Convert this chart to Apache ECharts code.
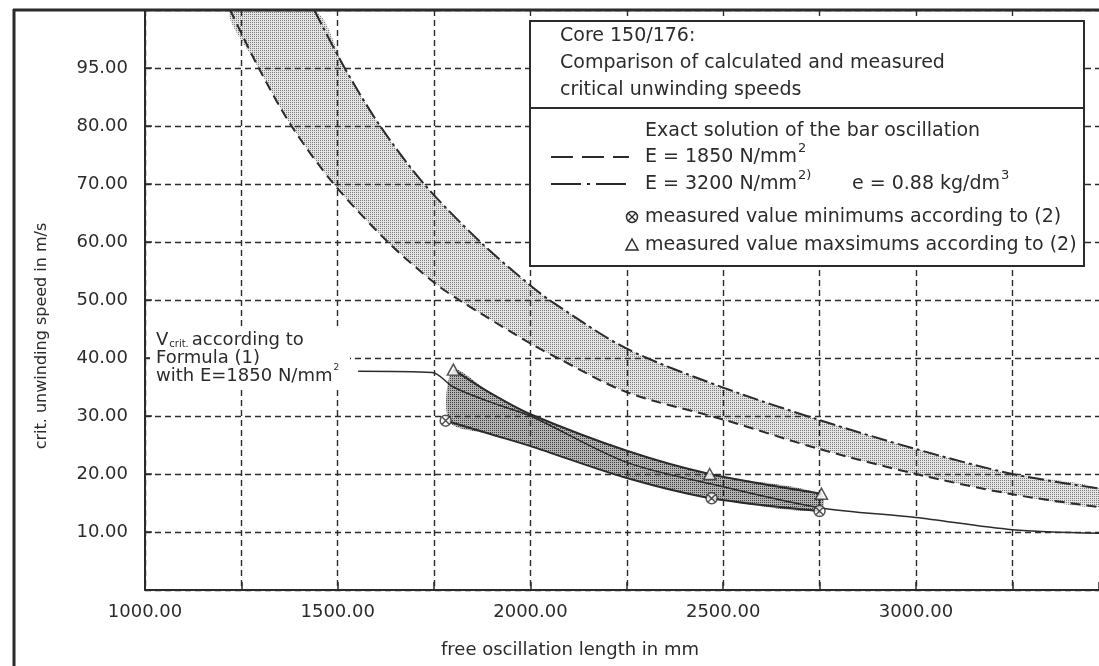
<!DOCTYPE html>
<html>
<head>
<meta charset="utf-8">
<title>Core 150/176 - critical unwinding speeds</title>
<script src="https://cdn.jsdelivr.net/npm/echarts@6/dist/echarts.min.js"></script>
<style>
  html, body { margin: 0; padding: 0; background: #fff; }
  #chart { width: 1099px; height: 666px; }
</style>
</head>
<body>
<div id="chart"></div>
<script>
// tick labels (the scanned original labels its 90 line "95.00")
const xTickValues = [1000, 1500, 2000, 2500, 3000]
const xTickLabels = ['1000.00', '1500.00', '2000.00', '2500.00', '3000.00']
const yTickValues = [10, 20, 30, 40, 50, 60, 70, 80, 90]
const yTickLabels = ['10.00', '20.00', '30.00', '40.00', '50.00', '60.00', '70.00', '80.00', '95.00']

// exact solution of the bar oscillation, [length mm, speed m/s]
const e1850Curve = [
  [1221, 100], [1295, 90], [1380, 80], [1490, 70], [1630, 60], [1750, 53], [1815, 50],
  [2000, 42.5], [2070, 40], [2250, 34.1], [2500, 29.4], [2750, 24.3], [3000, 20], [3250, 16.5], [3475, 14.3],
]
const e3200Curve = [
  [1439, 100], [1518, 90], [1610, 80], [1724, 70], [1870, 60], [2000, 52.5], [2060, 49.5],
  [2250, 41.6], [2500, 34.9], [2750, 29.3], [3000, 24.3], [3250, 20], [3475, 17.5],
]
// v crit. according to formula (1), E = 1850
const formulaCurve = [
  [1553, 37.7], [1745, 37.5], [1800, 35], [1900, 32.3], [2000, 30], [2250, 22],
  [2500, 17.8], [2750, 14.2], [3000, 12.5], [3250, 10.4], [3475, 9.8],
]
// measured values
const measuredMax = [[1800, 38], [1900, 33.8], [2000, 30.3], [2250, 24], [2465, 20], [2755, 16.6]]
const measuredMin = [[1790, 29], [1900, 26.8], [2000, 24.8], [2250, 19.3], [2470, 15.8], [2750, 13.6]]
const maxMarks = [[1800, 38], [2465, 20], [2755, 16.6]]
const minMarks = [[1780, 29.2], [2470, 15.8], [2750, 13.6]]

const ink = '#2b2b2b'
const font = '"DejaVu Sans", sans-serif'
const crossCircle = 'path://M10,0A10,10,0,1,1,10,20A10,10,0,1,1,10,0ZM3,3L17,17M17,3L3,17'

const measure = document.createElement('canvas').getContext('2d')
function textWidth(str, size) {
  measure.font = size + 'px ' + font
  return measure.measureText(str).width
}

function stipple(size, bg, dot) {
  const c = document.createElement('canvas')
  c.width = c.height = size
  const g = c.getContext('2d')
  g.fillStyle = bg
  g.fillRect(0, 0, size, size)
  g.fillStyle = dot
  g.fillRect(0, 0, 1, 1)
  return c
}

function band(edgeA, edgeB, pattern) {
  return {
    type: 'custom',
    silent: true,
    z: 1,
    data: [edgeA[0]],
    renderItem(params, api) {
      const cs = params.coordSys
      const pts = edgeA.concat(edgeB.slice().reverse()).map(p => api.coord(p))
      return {
        type: 'polygon',
        shape: { points: pts, smooth: 0.3 },
        style: { fill: { image: pattern, repeat: 'repeat' } },
        clipPath: { type: 'rect', shape: { x: cs.x, y: cs.y, width: cs.width, height: cs.height } },
      }
    },
  }
}

function curve(data, width, type) {
  return {
    type: 'line',
    data,
    smooth: 0.3,
    showSymbol: false,
    silent: true,
    z: 4,
    lineStyle: { color: ink, width, type },
  }
}

function label(x, y, text, size, align) {
  return {
    type: 'text', x, y, z: 101,
    style: { text, fill: ink, font: size + 'px ' + font, align: align || 'left', verticalAlign: 'middle' },
  }
}

// text followed by a raised small part (and maybe more text)
function withSup(x, y, base, sup, size) {
  const w = textWidth(base, size)
  return [label(x, y, base, size), label(x + w + 1, y - 8, sup, 13)]
}

const graphic = [
  // outer frame of the figure
  { type: 'line', z: 100, shape: { x1: 13, y1: 10, x2: 1099, y2: 10 }, style: { stroke: ink, lineWidth: 3 } },
  { type: 'line', z: 100, shape: { x1: 14, y1: 9, x2: 14, y2: 666 }, style: { stroke: ink, lineWidth: 3 } },

  // legend box
  { type: 'rect', z: 100, shape: { x: 530, y: 21, width: 554, height: 245 }, style: { fill: '#fff', stroke: ink, lineWidth: 2 } },
  { type: 'line', z: 100, shape: { x1: 530, y1: 108, x2: 1084, y2: 108 }, style: { stroke: ink, lineWidth: 2 } },
  label(560, 36, 'Core 150/176:', 19),
  label(560, 63, 'Comparison of calculated and measured', 19),
  label(560, 90, 'critical unwinding speeds', 19),
  label(645, 131, 'Exact solution of the bar oscillation', 19),
  { type: 'line', z: 101, shape: { x1: 551, y1: 157, x2: 629, y2: 157 }, style: { stroke: ink, lineWidth: 2, lineDash: [22, 9] } },
  ...withSup(645, 157, 'E = 1850 N/mm', '2', 19),
  { type: 'line', z: 101, shape: { x1: 551, y1: 184, x2: 629, y2: 184 }, style: { stroke: ink, lineWidth: 2, lineDash: [30, 6, 3, 6] } },
  ...withSup(645, 184, 'E = 3200 N/mm', '2)', 19),
  ...withSup(852, 184, 'e = 0.88 kg/dm', '3', 19),
  { type: 'circle', z: 101, shape: { cx: 632, cy: 217, r: 5.5 }, style: { fill: '#fff', stroke: ink, lineWidth: 1.5 } },
  { type: 'line', z: 101, shape: { x1: 628, y1: 213, x2: 636, y2: 221 }, style: { stroke: ink, lineWidth: 1.3 } },
  { type: 'line', z: 101, shape: { x1: 636, y1: 213, x2: 628, y2: 221 }, style: { stroke: ink, lineWidth: 1.3 } },
  label(645, 217, 'measured value minimums according to (2)', 19),
  { type: 'polygon', z: 101, shape: { points: [[632, 239], [626, 250], [638, 250]] }, style: { fill: '#fff', stroke: ink, lineWidth: 1.5 } },
  label(645, 245, 'measured value maxsimums according to (2)', 19),

  // annotation of the formula curve
  { type: 'rect', z: 99, shape: { x: 150, y: 329, width: 200, height: 58 }, style: { fill: '#fff' } },
  label(156, 340, 'V', 18),
  label(156 + textWidth('V', 18) + 1, 344, 'crit.', 10),
  label(156 + textWidth('V', 18) + 4 + textWidth('crit.', 10), 340, 'according to', 18),
  label(156, 358, 'Formula (1)', 18),
  label(156, 376, 'with E=1850 N/mm', 18),
  label(156 + textWidth('with E=1850 N/mm', 18) + 1, 368, '2', 9),

  // axis titles
  label(570, 650, 'free oscillation length in mm', 18, 'center'),
  { type: 'text', z: 101, x: 42, y: 336, rotation: Math.PI / 2,
    style: { text: 'crit. unwinding speed in m/s', fill: ink, font: '16px ' + font, align: 'center', verticalAlign: 'middle' } },
]

const chart = echarts.init(document.getElementById('chart'))
chart.setOption({
  animation: false,
  backgroundColor: '#fff',
  grid: { left: 145, top: 10, width: 954, height: 580, outerBoundsMode: 'none' },
  xAxis: {
    type: 'value',
    min: 1000,
    max: 3475,
    interval: 250,
    z: 3,
    axisLine: { lineStyle: { color: ink, width: 2 } },
    axisTick: { inside: true, length: 8, lineStyle: { color: ink, width: 1.5 } },
    axisLabel: {
      margin: 13,
      color: ink,
      fontSize: 18,
      fontFamily: font,
      formatter(v) {
        const i = xTickValues.indexOf(v)
        return i >= 0 ? xTickLabels[i] : ''
      },
    },
    splitLine: { showMaxLine: false, lineStyle: { color: ink, width: 1.4, type: [6, 4] } },
  },
  yAxis: {
    type: 'value',
    min: 0,
    max: 100,
    interval: 10,
    z: 3,
    axisLine: { show: true, lineStyle: { color: ink, width: 2 } },
    axisTick: { show: true, inside: true, length: 7, lineStyle: { color: ink, width: 1.5 } },
    axisLabel: {
      margin: 17,
      color: ink,
      fontSize: 18,
      fontFamily: font,
      formatter(v) {
        const i = yTickValues.indexOf(v)
        return i >= 0 ? yTickLabels[i] : ''
      },
    },
    splitLine: { lineStyle: { color: ink, width: 1.4, type: [6, 4] } },
  },
  series: [
    band(e1850Curve, e3200Curve, stipple(2, '#e4e4e4', '#7a7a7a')),
    band(measuredMax, measuredMin, stipple(2, '#b4b4b4', '#3a3a3a')),
    curve(e1850Curve, 2, [10, 6]),
    curve(e3200Curve, 2, [16, 4, 3, 4]),
    curve(formulaCurve, 1.5, 'solid'),
    curve(measuredMax, 2, 'solid'),
    curve(measuredMin, 2, 'solid'),
    {
      type: 'scatter', data: maxMarks, symbol: 'triangle', symbolSize: [12, 11], z: 5, silent: true,
      itemStyle: { color: '#fff', borderColor: ink, borderWidth: 1.5 },
    },
    {
      type: 'scatter', data: minMarks, symbol: crossCircle, symbolSize: 11, z: 5, silent: true,
      itemStyle: { color: '#fff', borderColor: ink, borderWidth: 1.5 },
    },
  ],
  graphic,
})
</script>
</body>
</html>
